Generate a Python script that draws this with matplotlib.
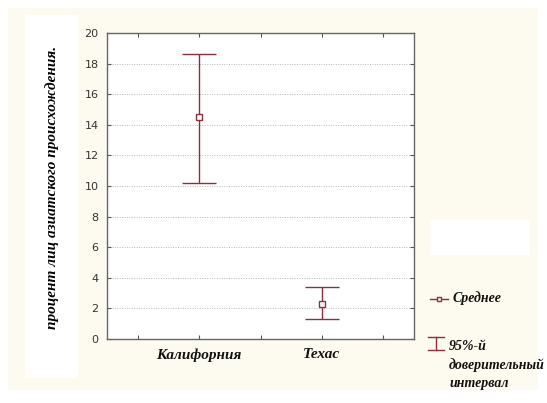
import matplotlib.pyplot as plt
from matplotlib.patches import Rectangle

states = ["Калифорния", "Техас"]
positions = [2, 4]
means = [14.5, 2.3]
ci_low = [10.2, 1.3]
ci_high = [18.6, 3.4]

bar_color = "#8c2f3c"
cream = "#fdfaf0"

fig = plt.figure(figsize=(5.47, 4.03), dpi=100, facecolor="white")

# cream backdrop with white patches like the original
fig.patches.append(Rectangle((8 / 547, 1 - 390 / 403), 530 / 547, 382 / 403,
                             transform=fig.transFigure, facecolor=cream, edgecolor="none", zorder=0))
fig.patches.append(Rectangle((25 / 547, 1 - 378 / 403), 53 / 547, 363 / 403,
                             transform=fig.transFigure, facecolor="white", edgecolor="none", zorder=0))
fig.patches.append(Rectangle((430 / 547, 1 - 255 / 403), 100 / 547, 35 / 403,
                             transform=fig.transFigure, facecolor="white", edgecolor="none", zorder=0))

ax = fig.add_axes([107 / 547, 1 - 339 / 403, 307 / 547, 306 / 403])
ax.set_zorder(5)
ax.set_facecolor("white")

for x, m, lo, hi in zip(positions, means, ci_low, ci_high):
    ax.errorbar([x], [m], yerr=[[m - lo], [hi - m]], fmt="s", color=bar_color,
                markerfacecolor="white", markeredgecolor=bar_color, markersize=4,
                capsize=12.5, elinewidth=1, capthick=1, zorder=3)

ax.set_xlim(0.5, 5.5)
ax.set_ylim(0, 20)
ax.set_yticks(range(0, 21, 2))
ax.set_xticks([1, 2, 3, 4, 5])
ax.set_xticklabels([])
ax.yaxis.grid(True, linestyle=(0, (1, 1.5)), color="#b8b8b8", linewidth=0.7)
ax.tick_params(direction="in", top=True, right=True, length=3, color="#555555",
               labelsize=8, labelcolor="#333333")
ax.tick_params(axis="y", pad=6)
for s in ax.spines.values():
    s.set_color("#666666")
    s.set_linewidth(1)

for x, name in zip(positions, states):
    ax.text(x, -0.6, name, ha="center", va="top", fontsize=11, fontstyle="italic",
            fontweight="bold", family="Liberation Serif", color="#111111")

fig.text(52 / 547, 1 - 187 / 403, "процент лиц азиатского происхождения.", rotation=90,
         ha="center", va="center", fontsize=11, fontstyle="italic", fontweight="bold",
         family="Liberation Serif", zorder=5)

# legend drawn by hand
leg = dict(fontsize=10, fontstyle="italic", fontweight="bold", family="Liberation Serif",
           color="#111111", zorder=5)
fig.lines.append(plt.Line2D([430 / 547, 439 / 547, 448 / 547], [1 - 299 / 403] * 3,
                            transform=fig.transFigure, color=bar_color, linewidth=1, marker="s",
                            markevery=[1], markersize=3.5, markerfacecolor="white", zorder=5))
fig.text(453 / 547, 1 - 298 / 403, "Среднее", va="center", **leg)
fig.lines.append(plt.Line2D([436 / 547, 436 / 547], [1 - 337 / 403, 1 - 350 / 403],
                            transform=fig.transFigure, color=bar_color, linewidth=1, zorder=5))
fig.lines.append(plt.Line2D([428 / 547, 444 / 547], [1 - 337 / 403] * 2,
                            transform=fig.transFigure, color=bar_color, linewidth=1, zorder=5))
fig.lines.append(plt.Line2D([428 / 547, 444 / 547], [1 - 350 / 403] * 2,
                            transform=fig.transFigure, color=bar_color, linewidth=1, zorder=5))
fig.text(449 / 547, 1 - 346 / 403, "95%-й", va="center", **leg)
fig.text(449 / 547, 1 - 365 / 403, "доверительный", va="center", **leg)
fig.text(449 / 547, 1 - 384 / 403, "интервал", va="center", **leg)

fig.savefig("out.png", dpi=100, facecolor=fig.get_facecolor())
